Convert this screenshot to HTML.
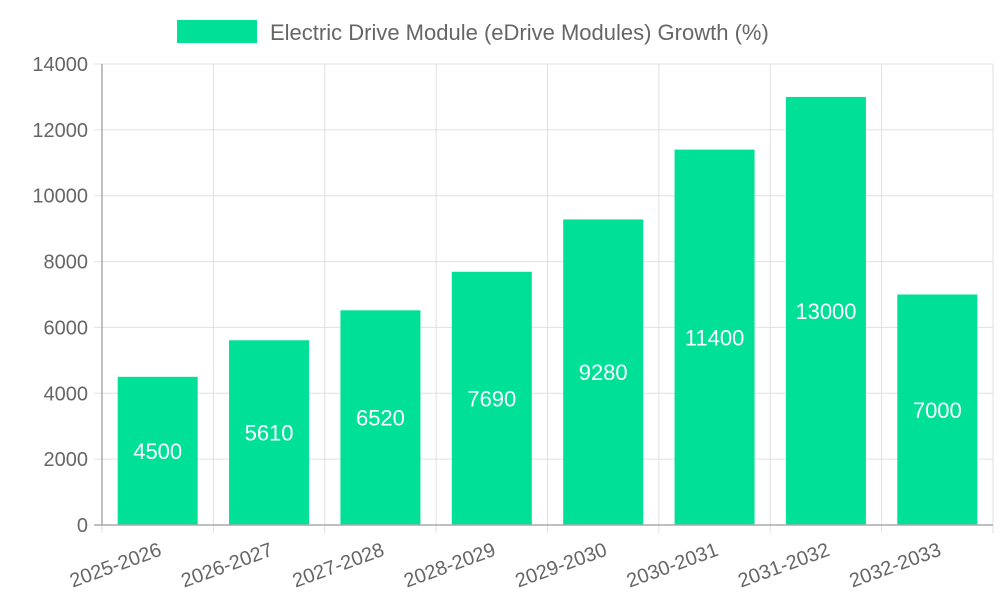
<!DOCTYPE html>
<html><head><meta charset="utf-8"><style>
body{margin:0;background:#fff;}
svg{display:block;font-family:"Liberation Sans",sans-serif;}
</style></head><body>
<svg id="chart" width="1000" height="600">
<g id="legend">
<rect x="177" y="20" width="80" height="23" fill="#00e096"></rect>
<text x="270" y="40" font-size="22" fill="#666">Electric Drive Module (eDrive Modules) Growth (%)</text>
</g>
<g id="grid"></g><g id="bars"></g><g id="axes"></g>
</svg>
<script>
const categories=["2025-2026","2026-2027","2027-2028","2028-2029","2029-2030","2030-2031","2031-2032","2032-2033"];
const values=[4500,5610,6520,7690,9280,11400,13000,7000];
const yTicks=[0,2000,4000,6000,8000,10000,12000,14000];
const L=102,R=993,T=64,B=525,yMax=14000;
const ns="http://www.w3.org/2000/svg";
const bw=(R-L)/categories.length;
const y=v=>B-(v/yMax)*(B-T);
const x=i=>L+bw*i;
function mk(t,a,p){const e=document.createElementNS(ns,t);for(const k in a)e.setAttribute(k,a[k]);p.appendChild(e);return e;}
const grid=document.getElementById('grid'),bars=document.getElementById('bars'),axes=document.getElementById('axes');
yTicks.forEach(v=>{
 const g=mk('line',{x1:L-8,x2:R,y1:y(v),y2:y(v),stroke:'#e0e0e0','stroke-width':1},grid);
 
 
 const t=mk('text',{x:L-14,y:y(v)+7,'text-anchor':'end','font-size':20,fill:'#666'},axes);
 t.textContent=v;
 
 
});
for(let i=0;i<=categories.length;i++){
 const g=mk('line',{x1:x(i),x2:x(i),y1:T,y2:B+8,stroke:'#e0e0e0','stroke-width':1},grid);
 
 
}
categories.forEach((c,i)=>{
 const cx=x(i)+bw/2,w=80,v=values[i];
 const r=mk('rect',{x:cx-w/2,y:y(v),width:w,height:B-y(v),fill:'#00e096'},bars);
 
 
 const vt=mk('text',{x:cx,y:(y(v)+B)/2+8,'text-anchor':'middle','font-size':22,fill:'#fff'},bars);
 vt.textContent=v;
 
 
 const lt=mk('text',{x:cx+5,y:B+30,'text-anchor':'end','font-size':20,fill:'#666',transform:`rotate(-20 ${cx+5} ${B+30})`},axes);
 lt.textContent=c;
 
 
});
const ya=mk('line',{x1:L,x2:L,y1:T,y2:B,stroke:'#aaa','stroke-width':1.5},axes);


const xa=mk('line',{x1:L-8,x2:R,y1:B,y2:B,stroke:'#aaa','stroke-width':1.5},axes);


</script>
</body></html>
